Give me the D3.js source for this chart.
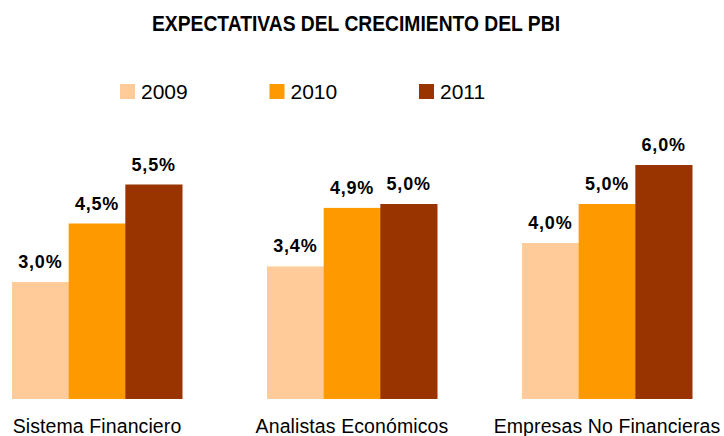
<!DOCTYPE html>
<html>
<head>
<meta charset="utf-8">
<script src="https://cdn.jsdelivr.net/npm/d3@7"></script>
<style>
  html, body { margin: 0; padding: 0; background: #ffffff; }
  #chart { width: 724px; height: 436px; overflow: hidden; }
</style>
</head>
<body>
<div id="chart"></div>
<script>
// chart data
var categories = ["Sistema Financiero", "Analistas Económicos", "Empresas No Financieras"];
var years = ["2009", "2010", "2011"];
var values2009 = [3.0, 3.4, 4.0];
var values2010 = [4.5, 4.9, 5.0];
var values2011 = [5.5, 5.0, 6.0];
var colors = ["#FFCC99", "#FF9900", "#993300"];
var title = "EXPECTATIVAS DEL CRECIMIENTO DEL PBI";

var width = 724, height = 436;
var series = [values2009, values2010, values2011];

var svg = d3.select("#chart").append("svg")
    .attr("width", width)
    .attr("height", height)
    .style("font-family", "Arial, 'Liberation Sans', sans-serif");

// scales
var x0 = d3.scaleBand()
    .domain(categories)
    .range([-30.5, 734.5])
    .paddingInner(1 / 3)
    .paddingOuter(1 / 6);

var x1 = d3.scaleBand()
    .domain(years)
    .range([0, x0.bandwidth()]);

var y = d3.scaleLinear()
    .domain([0, 6])
    .range([399, 165]);

var color = d3.scaleOrdinal().domain(years).range(colors);

var fmt = function(v) { return d3.format(".1f")(v).replace(".", ",") + "%"; };

// title
svg.append("text")
    .attr("x", 356)
    .attr("y", 31)
    .attr("text-anchor", "middle")
    .attr("textLength", 408)
    .attr("lengthAdjust", "spacingAndGlyphs")
    .style("font-family", "'Liberation Sans Narrow', 'Arial Narrow', Arial, sans-serif")
    .style("font-weight", "bold")
    .style("font-size", "22px")
    .style("fill", "#000")
    .text(title);

// legend
var legend = svg.append("g").selectAll("g")
    .data(years)
    .enter().append("g")
    .attr("transform", function(d, i) { return "translate(" + (120 + i * 149.5) + ",84)"; });

legend.append("rect")
    .attr("width", 15)
    .attr("height", 15)
    .attr("fill", function(d) { return color(d); });

legend.append("text")
    .attr("x", 21)
    .attr("y", 15)
    .style("font-size", "21px")
    .style("fill", "#000")
    .text(function(d) { return d; });

// bars
var groups = svg.append("g").selectAll("g")
    .data(categories)
    .enter().append("g")
    .attr("transform", function(d) { return "translate(" + x0(d) + ",0)"; });

var cells = groups.selectAll("g")
    .data(function(d, i) {
        return years.map(function(yr, j) { return { year: yr, value: series[j][i] }; });
    })
    .enter().append("g");

cells.append("rect")
    .attr("x", function(d) { return x1(d.year); })
    .attr("y", function(d) { return y(d.value); })
    .attr("width", x1.bandwidth() + 0.5)
    .attr("height", function(d) { return y(0) - y(d.value); })
    .attr("fill", function(d) { return color(d.year); });

cells.append("text")
    .attr("x", function(d) { return x1(d.year) + x1.bandwidth() / 2; })
    .attr("y", function(d) { return y(d.value) - 14; })
    .attr("text-anchor", "middle")
    .style("font-size", "18px")
    .style("font-weight", "bold")
    .style("letter-spacing", "0.8px")
    .style("fill", "#000")
    .text(function(d) { return fmt(d.value); });

// category labels
svg.append("g").selectAll("text")
    .data(categories)
    .enter().append("text")
    .attr("x", function(d) { return x0(d) + x0.bandwidth() / 2; })
    .attr("y", 433)
    .attr("text-anchor", "middle")
    .style("font-size", "19.5px")
    .style("letter-spacing", "0.1px")
    .style("fill", "#000")
    .text(function(d) { return d; });
</script>
</body>
</html>
